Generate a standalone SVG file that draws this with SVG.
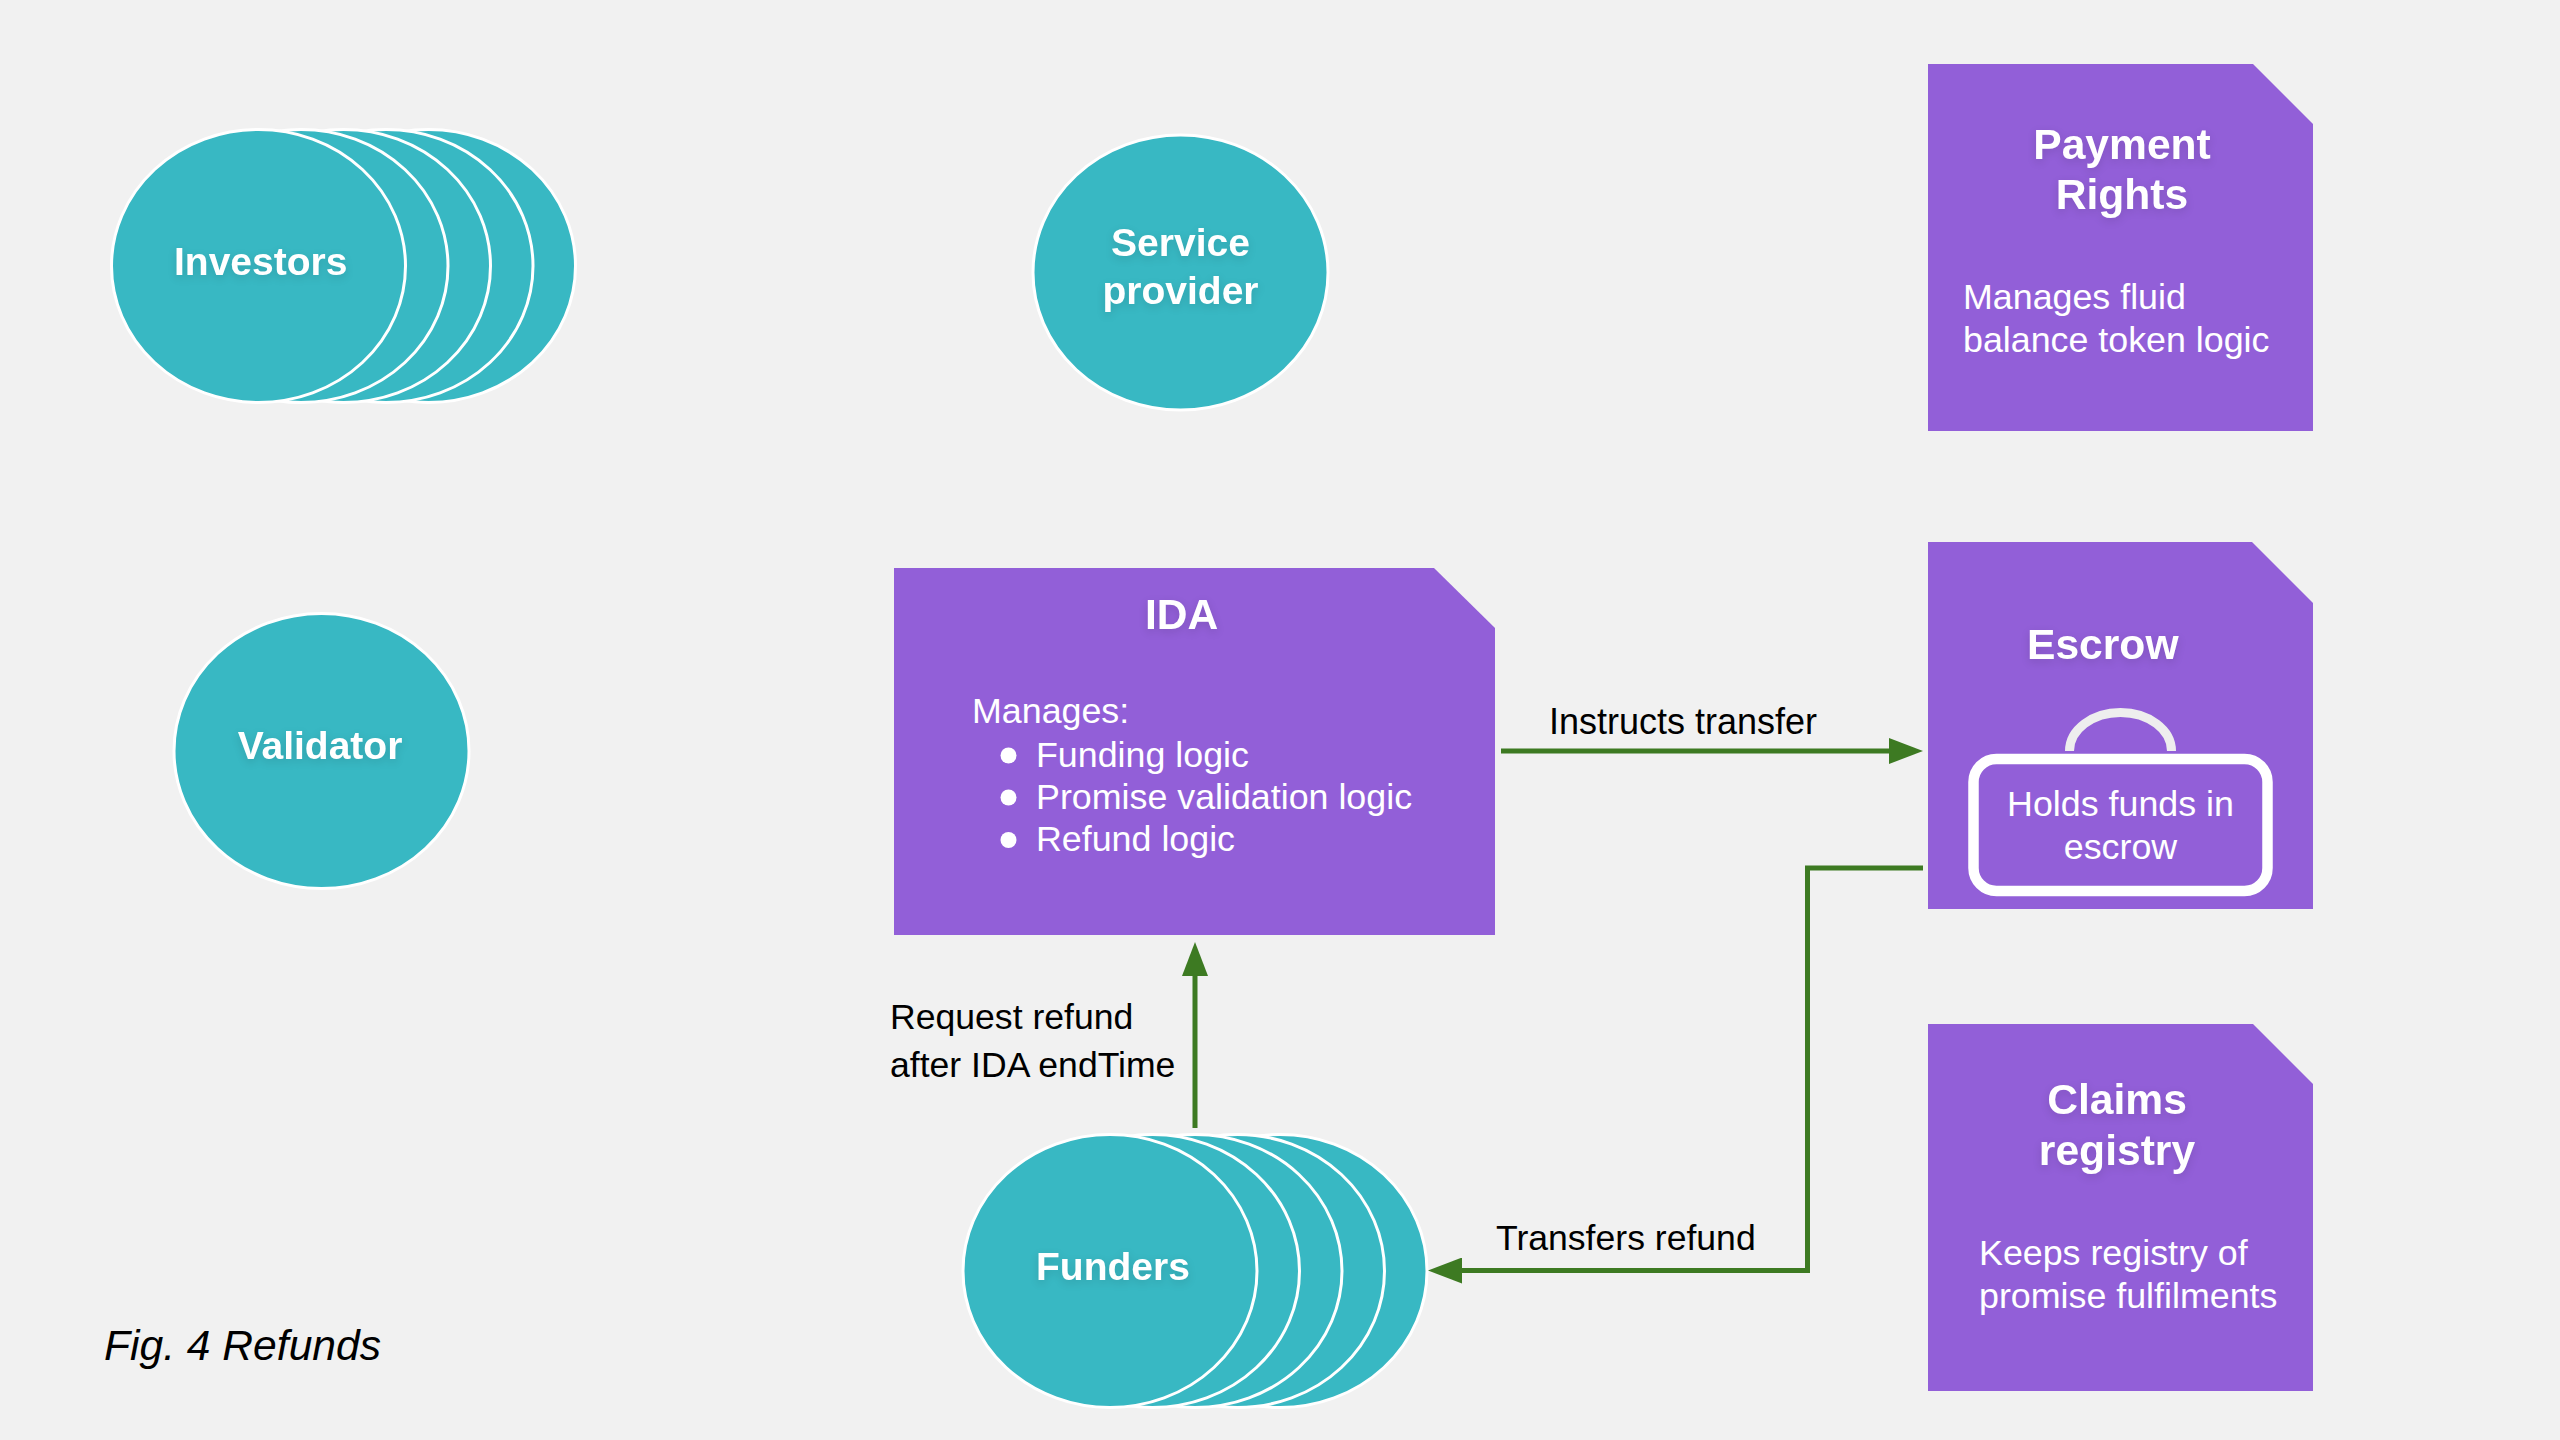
<svg xmlns="http://www.w3.org/2000/svg" width="2560" height="1440" viewBox="0 0 2560 1440">
<style>
text{font-family:"Liberation Sans",Arial,sans-serif;font-size:35.8px}
.w{fill:#fff}
.k{fill:#000;font-size:35.6px}
.t{fill:#fff;font-weight:700;font-size:42.6px;filter:drop-shadow(0 3px 4px rgba(0,0,0,.12))}
.n{fill:#fff;font-weight:700;font-size:39px;filter:drop-shadow(0 3px 4px rgba(0,0,0,.12))}
.m{text-anchor:middle}
.e{fill:#38b8c3;stroke:#fff;stroke-width:3}
.b{fill:#925fd8}
.c{fill:none;stroke:#3d7a22;stroke-width:5;marker-end:url(#a)}
</style>
<defs>
<marker id="a" markerUnits="userSpaceOnUse" markerWidth="34" markerHeight="26" refX="1" refY="13" orient="auto"><path d="M0 0L34 13L0 26z" fill="#3d7a22"/></marker>
</defs>
<rect width="2560" height="1440" fill="#f1f1f1"/>
<g id="investors">
<ellipse class="e" cx="428.5" cy="266" rx="147" ry="136.5"/>
<ellipse class="e" cx="386" cy="266" rx="147" ry="136.5"/>
<ellipse class="e" cx="343.5" cy="266" rx="147" ry="136.5"/>
<ellipse class="e" cx="301" cy="266" rx="147" ry="136.5"/>
<ellipse class="e" cx="258.5" cy="266" rx="147" ry="136.5"/>
<text class="n" x="174" y="275">Investors</text>
</g>
<g id="service-provider">
<ellipse class="e" cx="1180.5" cy="272.5" rx="147.5" ry="137.5"/>
<text class="n m" x="1180.5" y="256">Service</text>
<text class="n m" x="1180.5" y="304">provider</text>
</g>
<g id="validator">
<ellipse class="e" cx="321.5" cy="751" rx="147.5" ry="137.5"/>
<text class="n m" x="320" y="759">Validator</text>
</g>
<g id="funders">
<ellipse class="e" cx="1280" cy="1271" rx="147" ry="136.5"/>
<ellipse class="e" cx="1237.5" cy="1271" rx="147" ry="136.5"/>
<ellipse class="e" cx="1195" cy="1271" rx="147" ry="136.5"/>
<ellipse class="e" cx="1152.5" cy="1271" rx="147" ry="136.5"/>
<ellipse class="e" cx="1110" cy="1271" rx="147" ry="136.5"/>
<text class="n" x="1036" y="1280">Funders</text>
</g>
<g id="payment-rights">
<path class="b" d="M1928 64H2253L2313 124V431H1928z"/>
<text class="t m" x="2122" y="159">Payment</text>
<text class="t m" x="2122" y="209">Rights</text>
<text class="w" x="1963" y="309">Manages fluid</text>
<text class="w" x="1963" y="352">balance token logic</text>
</g>
<g id="escrow">
<path class="b" d="M1928 542H2252L2313 603V909H1928z"/>
<text class="t" x="2027" y="659">Escrow</text>
<path d="M2069.5 751A51 38.5 0 0 1 2171.5 751" fill="none" stroke="#eee" stroke-width="9"/>
<rect x="1973.5" y="759" width="294" height="132" rx="23" fill="none" stroke="#fff" stroke-width="10.5"/>
<text class="w m" x="2120.5" y="816">Holds funds in</text>
<text class="w m" x="2120.5" y="859">escrow</text>
</g>
<g id="claims-registry">
<path class="b" d="M1928 1024H2253L2313 1084V1391H1928z"/>
<text class="t m" x="2117" y="1114">Claims</text>
<text class="t m" x="2117" y="1165">registry</text>
<text class="w" x="1979" y="1265">Keeps registry of</text>
<text class="w" x="1979" y="1308">promise fulfilments</text>
</g>
<g id="ida">
<path class="b" d="M894 568H1434L1495 628V935H894z"/>
<text class="t" x="1145" y="629">IDA</text>
<text class="w" x="972" y="723">Manages:</text>
<circle class="w" cx="1008.5" cy="755.5" r="8"/>
<circle class="w" cx="1008.5" cy="797.5" r="8"/>
<circle class="w" cx="1008.5" cy="840" r="8"/>
<text class="w" x="1036" y="767">Funding logic</text>
<text class="w" x="1036" y="808.500">Promise validation logic</text>
<text class="w" x="1036" y="851">Refund logic</text>
</g>
<g id="connectors">
<path class="c" d="M1501 751H1890"/>
<path class="c" d="M1195 1128V975"/>
<path class="c" d="M1923 868H1807.5V1270.500H1461"/>
</g>
<g id="labels">
<text class="k" x="1549" y="734" style="font-size:36px">Instructs transfer</text>
<text class="k" x="890" y="1029">Request refund</text>
<text class="k" x="890" y="1077">after IDA endTime</text>
<text class="k" x="1496" y="1250">Transfers refund</text>
<text style="font-size:42.6px;font-style:italic" class="k" x="104" y="1360">Fig. 4 Refunds</text>
</g>
</svg>
